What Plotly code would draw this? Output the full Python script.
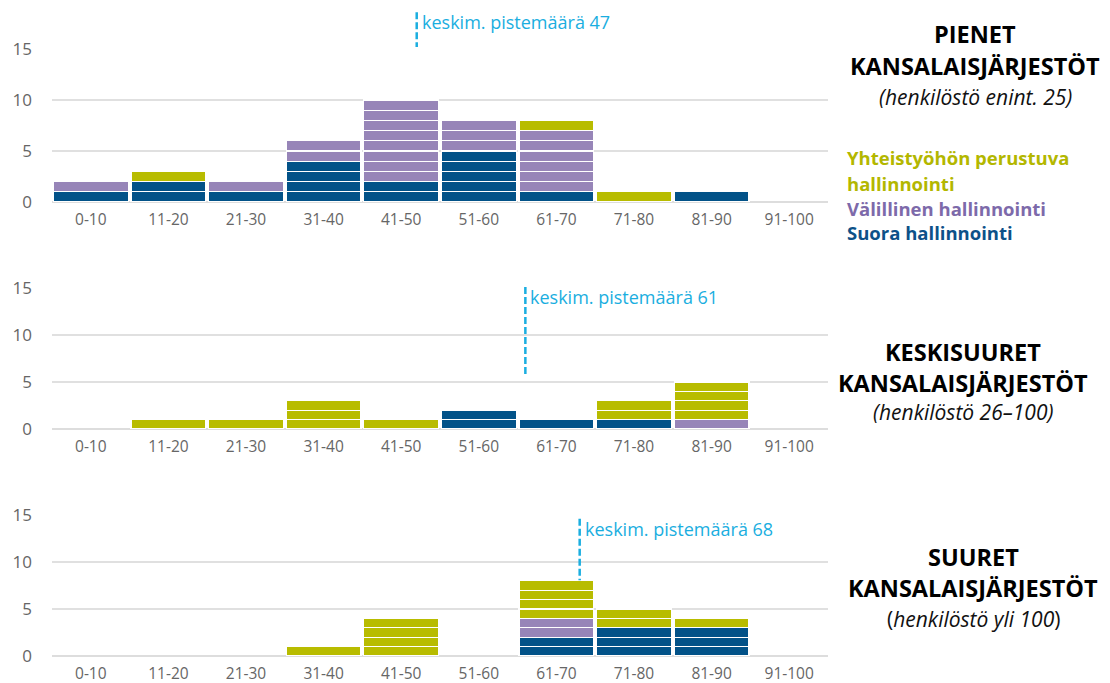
import plotly.graph_objects as go

categories = ["0-10", "11-20", "21-30", "31-40", "41-50", "51-60", "61-70", "71-80", "81-90", "91-100"]
series_names = ["Suora hallinnointi", "Välillinen hallinnointi", "Yhteistyöhön perustuva hallinnointi"]

# Panel 1: pienet
small_suora = [1, 2, 1, 4, 2, 5, 1, 0, 1, 0]
small_valillinen = [1, 0, 1, 2, 8, 3, 6, 0, 0, 0]
small_yhteistyo = [0, 1, 0, 0, 0, 0, 1, 1, 0, 0]
small_mean = 47

# Panel 2: keskisuuret
medium_suora = [0, 0, 0, 0, 0, 2, 1, 1, 0, 0]
medium_valillinen = [0, 0, 0, 0, 0, 0, 0, 0, 1, 0]
medium_yhteistyo = [0, 1, 1, 3, 1, 0, 0, 2, 4, 0]
medium_mean = 61

# Panel 3: suuret
large_suora = [0, 0, 0, 0, 0, 0, 2, 3, 3, 0]
large_valillinen = [0, 0, 0, 0, 0, 0, 2, 0, 0, 0]
large_yhteistyo = [0, 0, 0, 1, 4, 0, 4, 2, 1, 0]
large_mean = 68

y_ticks = [0, 5, 10, 15]

colors = ["#025288", "#9785b8", "#b8bc00"]
legend_colors = ["#0d5188", "#7d6aaa", "#b3b700"]
cyan = "#1aaee0"

W, H = 1110, 683
def py(p):  # pixel y -> paper
    return 1 - p / H
def px(p):
    return p / W

panels = [
    dict(data=[small_suora, small_valillinen, small_yhteistyo], mean=small_mean,
         y0=202, y15=49, line=(18.6, 15.2), title=["PIENET", "KANSALAISJÄRJESTÖT", "<i>(henkilöstö enint. 25)</i>"],
         tcx=975, ty=[34, 66, 97]),
    dict(data=[medium_suora, medium_valillinen, medium_yhteistyo], mean=medium_mean,
         y0=429, y15=288, line=(15.1, 5.7), title=["KESKISUURET", "KANSALAISJÄRJESTÖT", "<i>(henkilöstö 26–100)</i>"],
         tcx=963, ty=[352, 383, 412]),
    dict(data=[large_suora, large_valillinen, large_yhteistyo], mean=large_mean,
         y0=656, y15=515, line=(14.6, 8.05), title=["SUURET", "KANSALAISJÄRJESTÖT", "(<i>henkilöstö yli 100</i>)"],
         tcx=973, ty=[557, 588, 619]),
]

fig = go.Figure()
layout = dict(
    width=W, height=H, margin=dict(l=0, r=0, t=0, b=0, autoexpand=False),
    paper_bgcolor="white", plot_bgcolor="white",
    barmode="stack", bargap=0.035, showlegend=False,
    font=dict(family="Open Sans, sans-serif", color="#666666"),
)
shapes, annotations = [], []
xdom = [px(52), px(828)]

for i, p in enumerate(panels):
    n = "" if i == 0 else str(i + 1)
    xa, ya = "x" + n, "y" + n
    for s, vals in enumerate(p["data"]):
        for k in range(max(vals)):
            yv = [1 if v > k else None for v in vals]
            fig.add_trace(go.Bar(x=categories, y=yv, xaxis=xa, yaxis=ya,
                                 name=series_names[s],
                                 marker=dict(color=colors[s], line=dict(color="white", width=1.2))))
    layout["xaxis" + n] = dict(domain=xdom, anchor=ya, type="category", automargin=False,
                               showgrid=False, zeroline=False, showline=False,
                               ticks="", ticklabelstandoff=6,
                               tickfont=dict(size=15.5, color="#666666"),
                               range=[-0.5, 9.5])
    layout["yaxis" + n] = dict(domain=[py(p["y0"]), py(p["y15"])], anchor=xa, automargin=False,
                               range=[0, 15], tickvals=y_ticks, showgrid=True,
                               gridcolor="#e0e0e0", gridwidth=2, zeroline=True,
                               zerolinecolor="#dddddd", zerolinewidth=2,
                               showline=False, ticks="", ticklabelstandoff=19,
                               tickfont=dict(size=17, color="#666666"))
    # mean line
    mx = p["mean"] / 10 - 0.5
    ppu = (p["y0"] - p["y15"]) / 15.0
    top_px = p["y0"] - p["line"][0] * ppu
    bot_px = p["y0"] - p["line"][1] * ppu
    shapes.append(dict(type="line", xref=xa, yref="paper", x0=mx, x1=mx,
                       y0=py(top_px), y1=py(bot_px),
                       line=dict(color=cyan, width=2.5, dash="7px,3px")))
    annotations.append(dict(xref=xa, yref="paper", x=mx, y=py(top_px + 10),
                            text=f"keskim. pistemäärä {p['mean']}", showarrow=False,
                            xanchor="left", yanchor="middle", xshift=3,
                            font=dict(size=18, color=cyan, family="Open Sans, sans-serif")))
    # titles
    for j, t in enumerate(p["title"]):
        annotations.append(dict(xref="paper", yref="paper", x=px(p["tcx"]), y=py(p["ty"][j]),
                                text=(f"<b>{t}</b>" if j < 2 else t), showarrow=False,
                                xanchor="center", yanchor="middle",
                                font=dict(size=23.5 if j < 2 else 21, color="#000000" if j < 2 else "#111111",
                                          family="Open Sans, sans-serif")))

# legend
leg = [("Yhteistyöhön perustuva", 158, 2), ("hallinnointi", 183, 2),
       ("Välillinen hallinnointi", 208, 1), ("Suora hallinnointi", 233, 0)]
for t, y, c in leg:
    annotations.append(dict(xref="paper", yref="paper", x=px(845), y=py(y), text=f"<b>{t}</b>",
                            showarrow=False, xanchor="left", yanchor="middle",
                            font=dict(size=18.5, color=legend_colors[c], family="Open Sans, sans-serif")))

layout["shapes"] = shapes
layout["annotations"] = annotations
fig.update_layout(**layout)
fig.write_html("out.html", config={"displayModeBar": False},
               post_script="document.body.style.margin='0';")
